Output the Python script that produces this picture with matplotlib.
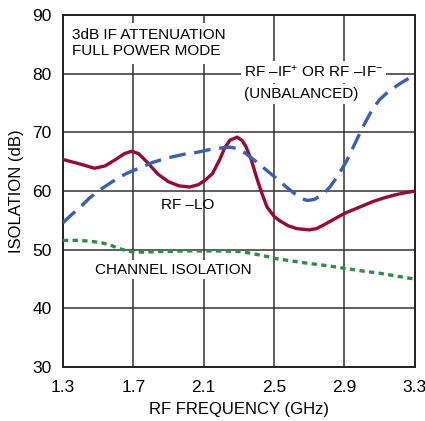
#   Isolation vs RF frequency   #

import matplotlib
matplotlib.use("Agg")
import matplotlib.pyplot as plt
from matplotlib import font_manager

#   Font    #
names = {f.name for f in font_manager.fontManager.ttflist}
FONT = "Liberation Sans Narrow" if "Liberation Sans Narrow" in names else "Liberation Sans"
plt.rcParams['font.family'] = [FONT, 'DejaVu Sans']
plt.rcParams['mathtext.fontset'] = 'custom'
plt.rcParams['mathtext.rm'] = FONT
plt.rcParams['mathtext.it'] = FONT

#   Data   #
rf_lo_x = [1.30, 1.40, 1.48, 1.54, 1.60, 1.65, 1.69, 1.73, 1.78, 1.84, 1.90, 1.96, 2.02,
           2.07, 2.11, 2.15, 2.19, 2.22, 2.25, 2.29, 2.32, 2.34, 2.37, 2.40, 2.43, 2.46,
           2.50, 2.53, 2.58, 2.63, 2.70, 2.74, 2.78, 2.84, 2.90, 2.98, 3.06, 3.12, 3.18,
           3.24, 3.30]
rf_lo_y = [65.4, 64.6, 63.9, 64.3, 65.4, 66.4, 66.8, 66.4, 64.9, 62.9, 61.6, 60.9, 60.7,
           61.1, 61.9, 63.0, 65.3, 67.4, 68.7, 69.2, 68.6, 67.6, 65.4, 62.4, 59.7, 57.3,
           55.7, 55.0, 54.1, 53.6, 53.4, 53.6, 54.2, 55.2, 56.2, 57.2, 58.2, 58.8, 59.3,
           59.7, 60.0]

rf_if_x = [1.30, 1.35, 1.40, 1.45, 1.51, 1.58, 1.66, 1.74, 1.81, 1.90, 1.99, 2.06, 2.12,
           2.18, 2.25, 2.30, 2.34, 2.40, 2.46, 2.52, 2.57, 2.62, 2.66, 2.69, 2.73, 2.78,
           2.82, 2.86, 2.91, 2.95, 2.99, 3.02, 3.06, 3.10, 3.14, 3.19, 3.23, 3.27, 3.30]
rf_if_y = [54.6, 56.0, 57.3, 58.8, 60.2, 61.6, 63.0, 64.0, 64.9, 65.7, 66.3, 66.6, 67.0,
           67.3, 67.5, 67.2, 66.4, 65.0, 63.5, 62.0, 60.7, 59.5, 58.7, 58.4, 58.6, 59.5,
           60.8, 62.5, 65.0, 67.5, 70.0, 71.8, 74.0, 75.6, 76.7, 77.8, 78.6, 79.3, 79.9]

chan_x = [1.30, 1.40, 1.47, 1.52, 1.57, 1.62, 1.68, 1.75, 1.85, 2.00, 2.10, 2.20, 2.31,
          2.37, 2.42, 2.47, 2.51, 2.60, 2.69, 2.80, 2.91, 3.00, 3.10, 3.20, 3.30]
chan_y = [51.6, 51.6, 51.4, 51.2, 50.8, 50.2, 49.7, 49.6, 49.7, 49.8, 49.8, 49.8, 49.7,
          49.4, 49.1, 48.8, 48.5, 48.1, 47.7, 47.3, 46.8, 46.4, 46.0, 45.5, 45.0]

x_ticks = [1.3, 1.7, 2.1, 2.5, 2.9, 3.3]
y_ticks = [30, 40, 50, 60, 70, 80, 90]


#   Create the figure   #
fig = plt.figure(figsize=(4.25, 4.21), dpi=100)
ax = fig.add_axes([0.148, 0.128, 0.828, 0.836])

ax.plot(rf_lo_x, rf_lo_y, color='#990a30', lw=2.4, solid_capstyle='round', zorder=3)
ax.plot(rf_if_x, rf_if_y, color='#3b5eae', lw=2.4, dashes=(5, 2.6), zorder=3)
ax.plot(chan_x, chan_y, color='#2f8a4c', lw=2.4, dashes=(1.6, 1.3), zorder=3)

#   Customize plot   #
ax.set_xlim(1.3, 3.3)
ax.set_ylim(30, 90)
ax.set_xticks(x_ticks)
ax.set_xticklabels([str(t) for t in x_ticks], fontsize=12.5)
ax.set_yticks(y_ticks)
ax.set_yticklabels([str(t) for t in y_ticks], fontsize=12.5)
ax.tick_params(axis='x', length=0, pad=9)
ax.tick_params(axis='y', length=0, pad=8)
ax.grid(True, color='#333333', lw=1.1)
ax.set_axisbelow(True)
for side in ax.spines.values():
    side.set_linewidth(1.4)
    side.set_color('#222222')

ax.set_xlabel('RF FREQUENCY (GHz)', fontsize=12, labelpad=5)
ax.set_ylabel('ISOLATION (dB)', fontsize=12, labelpad=6)

box = dict(facecolor='white', edgecolor='none', pad=2)
ax.text(1.352, 85.2, '3dB IF ATTENUATION\nFULL POWER MODE', fontsize=11,
        ha='left', va='center', linespacing=1.2, bbox=dict(facecolor='white', edgecolor='none', pad=4), zorder=4)
ax.text(2.33, 80.3, r'RF –IF$^{+}$ OR RF –IF$^{-}$', fontsize=11, ha='left', va='center',
        bbox=box, zorder=4)
ax.text(2.33, 76.6, '(UNBALANCED)', fontsize=11, ha='left', va='center', bbox=box, zorder=4)
ax.text(1.86, 57.6, 'RF –LO', fontsize=11, ha='left', va='center', zorder=4)
ax.text(1.48, 46.6, 'CHANNEL ISOLATION', fontsize=11, ha='left', va='center', bbox=box, zorder=4)

fig.savefig('out.png', dpi=100)
